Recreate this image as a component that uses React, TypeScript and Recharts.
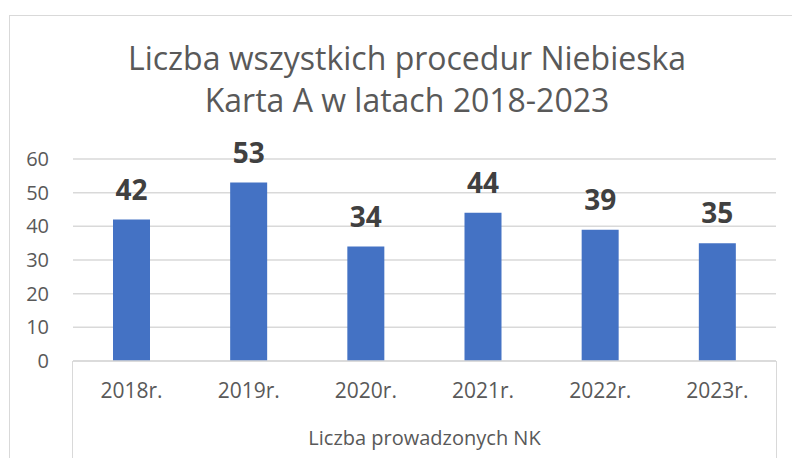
import React from 'react';
import { BarChart, Bar, XAxis, YAxis, CartesianGrid, LabelList } from 'recharts';

const years = ['2018r.', '2019r.', '2020r.', '2021r.', '2022r.', '2023r.'];
const procedures = [42, 53, 34, 44, 39, 35];
const yTicks = [0, 10, 20, 30, 40, 50, 60];

const data = years.map((year, i) => ({ year, value: procedures[i] }));

const FONT = '"Open Sans", "Noto Sans", sans-serif';
const GRID = '#d9d9d9';
const TEXT = '#595959';

export default function App() {
  return (
    <div
      style={{
        position: 'absolute',
        left: 0,
        top: 0,
        width: 792,
        height: 458,
        overflow: 'hidden',
        background: '#fff',
        fontFamily: FONT,
      }}
    >
      {/* outer chart frame, clipped on the right and bottom */}
      <div
        style={{
          position: 'absolute',
          left: 9,
          top: 15,
          width: 900,
          height: 600,
          border: `1px solid ${GRID}`,
        }}
      />
      <div
        style={{
          position: 'absolute',
          left: 0,
          top: 37,
          width: 814,
          textAlign: 'center',
          fontSize: 32,
          lineHeight: '42px',
          color: TEXT,
        }}
      >
        <div>Liczba wszystkich procedur Niebieska</div>
        <div>Karta A w latach 2018-2023</div>
      </div>
      <div style={{ position: 'absolute', left: 0, top: 0 }}>
        <BarChart
          width={792}
          height={458}
          data={data}
          margin={{ top: 159, right: 16, left: 13, bottom: 0 }}
        >
          <CartesianGrid vertical={false} stroke={GRID} strokeWidth={1.5} />
          <XAxis
            dataKey="year"
            height={97}
            axisLine={{ stroke: GRID, strokeWidth: 1.5 }}
            tickLine={false}
            tickSize={0}
            tickMargin={22}
            tick={{ fill: TEXT, fontSize: 21, fontFamily: FONT }}
            label={{
              value: 'Liczba prowadzonych NK',
              position: 'insideBottom',
              offset: 13,
              fill: TEXT,
              fontSize: 20,
              fontFamily: FONT,
            }}
          />
          <YAxis
            width={60}
            domain={[0, 60]}
            ticks={yTicks}
            axisLine={false}
            tickLine={false}
            tickSize={0}
            tickMargin={24}
            tick={{ fill: TEXT, fontSize: 20, fontFamily: FONT }}
          />
          <Bar dataKey="value" fill="#4472C4" barSize={37} isAnimationActive={false}>
            <LabelList
              dataKey="value"
              position="top"
              offset={20}
              fill="#404040"
              fontSize={28}
              fontWeight="bold"
              fontFamily={FONT}
            />
          </Bar>
        </BarChart>
      </div>
      {/* multi-level category axis frame */}
      <div
        style={{
          position: 'absolute',
          left: 72,
          top: 361,
          width: 705,
          height: 120,
          boxSizing: 'border-box',
          borderLeft: `1.5px solid ${GRID}`,
          borderRight: `1.5px solid ${GRID}`,
        }}
      />
    </div>
  );
}
